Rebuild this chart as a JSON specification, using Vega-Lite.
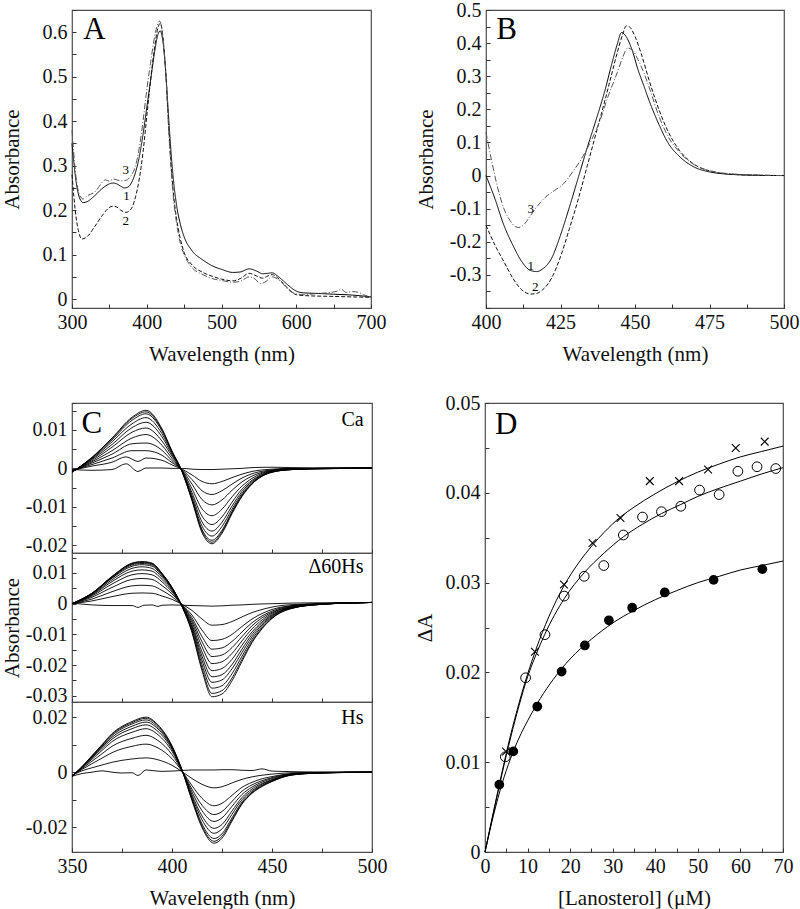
{
"$schema":"https://vega.github.io/schema/vega-lite/v6.json",
"padding":{"left":0,"top":-1,"right":0,"bottom":0},
"config":{
"font":"Liberation Serif",
"view":{"stroke":"#4d4d4d","strokeWidth":1.2},
"axis":{"domain":false,"grid":false,"ticks":true,"tickSize":-4,"tickColor":"#333","tickWidth":1,"labelFontSize":20,"titleFontSize":21,"labelColor":"#111","titleColor":"#111","titleFontWeight":"normal","labelFlush":false,"labelOverlap":false,"labelPadding":9,"labelFont":"Liberation Serif","titleFont":"Liberation Serif"},
"axisX":{"minExtent":31,"maxExtent":31,"titlePadding":4,"labelPadding":8},
"axisY":{"minExtent":47,"maxExtent":47,"titlePadding":3},
"line":{"color":"black","strokeWidth":1,"interpolate":"monotone","clip":true},
"text":{"font":"Liberation Serif","color":"black"},
"locale":{"number":{"decimal":".","thousands":",","grouping":[3],"currency":["$",""],"minus":"-"}}
},
"datasets":{
"A":[
{"c":"1","x":300,"y":0.35},{"c":"1","x":305,"y":0.27},{"c":"1","x":310,"y":0.228},{"c":"1","x":315,"y":0.217},{"c":"1","x":320,"y":0.219},{"c":"1","x":330,"y":0.232},{"c":"1","x":340,"y":0.248},{"c":"1","x":350,"y":0.259},{"c":"1","x":355,"y":0.261},{"c":"1","x":360,"y":0.259},{"c":"1","x":365,"y":0.254},{"c":"1","x":370,"y":0.25},{"c":"1","x":375,"y":0.252},{"c":"1","x":380,"y":0.263},{"c":"1","x":385,"y":0.285},{"c":"1","x":390,"y":0.32},{"c":"1","x":395,"y":0.37},{"c":"1","x":400,"y":0.43},{"c":"1","x":405,"y":0.49},{"c":"1","x":410,"y":0.55},{"c":"1","x":415,"y":0.595},{"c":"1","x":418,"y":0.603},{"c":"1","x":420,"y":0.595},{"c":"1","x":423,"y":0.56},{"c":"1","x":425,"y":0.52},{"c":"1","x":430,"y":0.39},{"c":"1","x":435,"y":0.28},{"c":"1","x":440,"y":0.21},{"c":"1","x":445,"y":0.168},{"c":"1","x":450,"y":0.14},{"c":"1","x":460,"y":0.11},{"c":"1","x":475,"y":0.088},{"c":"1","x":490,"y":0.073},{"c":"1","x":500,"y":0.067},{"c":"1","x":515,"y":0.06},{"c":"1","x":525,"y":0.061},{"c":"1","x":537,"y":0.068},{"c":"1","x":547,"y":0.063},{"c":"1","x":555,"y":0.057},{"c":"1","x":562,"y":0.058},{"c":"1","x":568,"y":0.059},{"c":"1","x":575,"y":0.052},{"c":"1","x":580,"y":0.045},{"c":"1","x":590,"y":0.03},{"c":"1","x":600,"y":0.018},{"c":"1","x":610,"y":0.014},{"c":"1","x":625,"y":0.013},{"c":"1","x":650,"y":0.011},{"c":"1","x":675,"y":0.009},{"c":"1","x":700,"y":0.005},
{"c":"2","x":300,"y":0.28},{"c":"2","x":305,"y":0.19},{"c":"2","x":310,"y":0.145},{"c":"2","x":313,"y":0.135},{"c":"2","x":320,"y":0.14},{"c":"2","x":330,"y":0.162},{"c":"2","x":340,"y":0.187},{"c":"2","x":350,"y":0.206},{"c":"2","x":355,"y":0.209},{"c":"2","x":360,"y":0.207},{"c":"2","x":365,"y":0.2},{"c":"2","x":372,"y":0.195},{"c":"2","x":378,"y":0.2},{"c":"2","x":385,"y":0.23},{"c":"2","x":390,"y":0.27},{"c":"2","x":395,"y":0.33},{"c":"2","x":400,"y":0.41},{"c":"2","x":405,"y":0.49},{"c":"2","x":410,"y":0.56},{"c":"2","x":415,"y":0.61},{"c":"2","x":418,"y":0.62},{"c":"2","x":420,"y":0.61},{"c":"2","x":423,"y":0.565},{"c":"2","x":425,"y":0.52},{"c":"2","x":430,"y":0.37},{"c":"2","x":435,"y":0.25},{"c":"2","x":440,"y":0.18},{"c":"2","x":445,"y":0.135},{"c":"2","x":450,"y":0.105},{"c":"2","x":460,"y":0.078},{"c":"2","x":475,"y":0.06},{"c":"2","x":490,"y":0.05},{"c":"2","x":500,"y":0.045},{"c":"2","x":515,"y":0.041},{"c":"2","x":525,"y":0.046},{"c":"2","x":537,"y":0.058},{"c":"2","x":547,"y":0.052},{"c":"2","x":555,"y":0.047},{"c":"2","x":562,"y":0.052},{"c":"2","x":568,"y":0.055},{"c":"2","x":575,"y":0.048},{"c":"2","x":580,"y":0.04},{"c":"2","x":590,"y":0.022},{"c":"2","x":600,"y":0.01},{"c":"2","x":610,"y":0.008},{"c":"2","x":650,"y":0.006},{"c":"2","x":700,"y":0.004},
{"c":"3","x":300,"y":0.38},{"c":"3","x":305,"y":0.28},{"c":"3","x":310,"y":0.235},{"c":"3","x":315,"y":0.225},{"c":"3","x":320,"y":0.232},{"c":"3","x":325,"y":0.236},{"c":"3","x":330,"y":0.24},{"c":"3","x":335,"y":0.25},{"c":"3","x":340,"y":0.262},{"c":"3","x":345,"y":0.268},{"c":"3","x":350,"y":0.265},{"c":"3","x":355,"y":0.27},{"c":"3","x":360,"y":0.268},{"c":"3","x":365,"y":0.266},{"c":"3","x":372,"y":0.267},{"c":"3","x":378,"y":0.275},{"c":"3","x":385,"y":0.3},{"c":"3","x":390,"y":0.34},{"c":"3","x":395,"y":0.4},{"c":"3","x":400,"y":0.47},{"c":"3","x":405,"y":0.53},{"c":"3","x":410,"y":0.585},{"c":"3","x":415,"y":0.62},{"c":"3","x":417,"y":0.625},{"c":"3","x":420,"y":0.61},{"c":"3","x":423,"y":0.56},{"c":"3","x":425,"y":0.52},{"c":"3","x":430,"y":0.36},{"c":"3","x":435,"y":0.24},{"c":"3","x":440,"y":0.17},{"c":"3","x":445,"y":0.125},{"c":"3","x":450,"y":0.1},{"c":"3","x":460,"y":0.072},{"c":"3","x":475,"y":0.055},{"c":"3","x":490,"y":0.045},{"c":"3","x":500,"y":0.042},{"c":"3","x":515,"y":0.038},{"c":"3","x":525,"y":0.04},{"c":"3","x":537,"y":0.05},{"c":"3","x":545,"y":0.045},{"c":"3","x":552,"y":0.035},{"c":"3","x":558,"y":0.038},{"c":"3","x":568,"y":0.05},{"c":"3","x":575,"y":0.045},{"c":"3","x":582,"y":0.035},{"c":"3","x":590,"y":0.02},{"c":"3","x":600,"y":0.012},{"c":"3","x":610,"y":0.01},{"c":"3","x":625,"y":0.012},{"c":"3","x":640,"y":0.014},{"c":"3","x":655,"y":0.018},{"c":"3","x":660,"y":0.022},{"c":"3","x":667,"y":0.015},{"c":"3","x":675,"y":0.017},{"c":"3","x":685,"y":0.014},{"c":"3","x":690,"y":0.01},{"c":"3","x":700,"y":0.004}
],
"B":[
{"c":"1","x":400,"y":0.0},{"c":"1","x":403,"y":-0.07},{"c":"1","x":406,"y":-0.15},{"c":"1","x":409,"y":-0.21},{"c":"1","x":412,"y":-0.26},{"c":"1","x":415,"y":-0.287},{"c":"1","x":417,"y":-0.29},{"c":"1","x":419,"y":-0.282},{"c":"1","x":422,"y":-0.25},{"c":"1","x":425,"y":-0.18},{"c":"1","x":428,"y":-0.095},{"c":"1","x":431,"y":-0.005},{"c":"1","x":434,"y":0.085},{"c":"1","x":437,"y":0.17},{"c":"1","x":440,"y":0.26},{"c":"1","x":442,"y":0.33},{"c":"1","x":444,"y":0.395},{"c":"1","x":445.5,"y":0.432},{"c":"1","x":447,"y":0.42},{"c":"1","x":449,"y":0.38},{"c":"1","x":451,"y":0.32},{"c":"1","x":453,"y":0.27},{"c":"1","x":455,"y":0.22},{"c":"1","x":458,"y":0.155},{"c":"1","x":461,"y":0.1},{"c":"1","x":465,"y":0.057},{"c":"1","x":470,"y":0.025},{"c":"1","x":475,"y":0.011},{"c":"1","x":480,"y":0.005},{"c":"1","x":490,"y":0.001},{"c":"1","x":500,"y":0},
{"c":"2","x":400,"y":-0.15},{"c":"2","x":403,"y":-0.21},{"c":"2","x":406,"y":-0.26},{"c":"2","x":409,"y":-0.31},{"c":"2","x":412,"y":-0.345},{"c":"2","x":415,"y":-0.358},{"c":"2","x":417,"y":-0.356},{"c":"2","x":419,"y":-0.345},{"c":"2","x":422,"y":-0.31},{"c":"2","x":425,"y":-0.245},{"c":"2","x":428,"y":-0.16},{"c":"2","x":431,"y":-0.07},{"c":"2","x":434,"y":0.03},{"c":"2","x":437,"y":0.13},{"c":"2","x":440,"y":0.23},{"c":"2","x":442,"y":0.3},{"c":"2","x":444,"y":0.37},{"c":"2","x":446,"y":0.43},{"c":"2","x":447,"y":0.452},{"c":"2","x":448,"y":0.45},{"c":"2","x":450,"y":0.42},{"c":"2","x":452,"y":0.37},{"c":"2","x":455,"y":0.28},{"c":"2","x":458,"y":0.2},{"c":"2","x":461,"y":0.135},{"c":"2","x":465,"y":0.075},{"c":"2","x":470,"y":0.033},{"c":"2","x":475,"y":0.014},{"c":"2","x":480,"y":0.006},{"c":"2","x":490,"y":0.001},{"c":"2","x":500,"y":0},
{"c":"3","x":400,"y":0.13},{"c":"3","x":402,"y":0.04},{"c":"3","x":404,"y":-0.04},{"c":"3","x":406,"y":-0.1},{"c":"3","x":408,"y":-0.135},{"c":"3","x":410,"y":-0.155},{"c":"3","x":411,"y":-0.157},{"c":"3","x":413,"y":-0.145},{"c":"3","x":415,"y":-0.12},{"c":"3","x":417,"y":-0.095},{"c":"3","x":420,"y":-0.065},{"c":"3","x":423,"y":-0.045},{"c":"3","x":426,"y":-0.025},{"c":"3","x":429,"y":0.01},{"c":"3","x":432,"y":0.05},{"c":"3","x":435,"y":0.1},{"c":"3","x":438,"y":0.16},{"c":"3","x":441,"y":0.24},{"c":"3","x":444,"y":0.31},{"c":"3","x":446,"y":0.36},{"c":"3","x":447.5,"y":0.385},{"c":"3","x":449,"y":0.38},{"c":"3","x":451,"y":0.35},{"c":"3","x":453,"y":0.31},{"c":"3","x":455,"y":0.26},{"c":"3","x":458,"y":0.18},{"c":"3","x":461,"y":0.12},{"c":"3","x":465,"y":0.07},{"c":"3","x":470,"y":0.032},{"c":"3","x":475,"y":0.015},{"c":"3","x":480,"y":0.007},{"c":"3","x":490,"y":0.002},{"c":"3","x":500,"y":0}
],
"Ca":[
{"c":1,"x":350,"y":-0.0003},{"c":1,"x":360,"y":-0.0005},{"c":1,"x":370,"y":-0.0003},{"c":1,"x":377,"y":0.0012},{"c":1,"x":383,"y":-0.0008},{"c":1,"x":387,"y":0.0001},{"c":1,"x":395,"y":0.0001},{"c":1,"x":400,"y":0},{"c":1,"x":405,"y":0},{"c":1,"x":410,"y":-0.0002},{"c":1,"x":415,"y":-0.0003},{"c":1,"x":420,"y":-0.0003},{"c":1,"x":425,"y":-0.0002},{"c":1,"x":430,"y":-0.0001},{"c":1,"x":435,"y":0},{"c":1,"x":440,"y":0.0002},{"c":1,"x":450,"y":0.0003},{"c":1,"x":460,"y":0.0002},{"c":1,"x":475,"y":0.0001},{"c":1,"x":500,"y":0},
{"c":2,"x":350,"y":-0.0005},{"c":2,"x":360,"y":0.0006},{"c":2,"x":370,"y":0.0016},{"c":2,"x":377,"y":0.003},{"c":2,"x":383,"y":0.0018},{"c":2,"x":387,"y":0.0027},{"c":2,"x":395,"y":0.0021},{"c":2,"x":400,"y":0.0009},{"c":2,"x":405,"y":-0.0002},{"c":2,"x":410,"y":-0.0017},{"c":2,"x":415,"y":-0.0034},{"c":2,"x":420,"y":-0.004},{"c":2,"x":425,"y":-0.0034},{"c":2,"x":430,"y":-0.0024},{"c":2,"x":435,"y":-0.0015},{"c":2,"x":440,"y":-0.0008},{"c":2,"x":450,"y":-0.0002},{"c":2,"x":460,"y":0},{"c":2,"x":475,"y":0},{"c":2,"x":500,"y":0},
{"c":3,"x":350,"y":-0.0006},{"c":3,"x":360,"y":0.001},{"c":3,"x":370,"y":0.0027},{"c":3,"x":380,"y":0.0046},{"c":3,"x":387,"y":0.0046},{"c":3,"x":395,"y":0.0034},{"c":3,"x":400,"y":0.0015},{"c":3,"x":405,"y":-0.0003},{"c":3,"x":410,"y":-0.0029},{"c":3,"x":415,"y":-0.0058},{"c":3,"x":420,"y":-0.0068},{"c":3,"x":425,"y":-0.0058},{"c":3,"x":430,"y":-0.0041},{"c":3,"x":435,"y":-0.0025},{"c":3,"x":440,"y":-0.0014},{"c":3,"x":450,"y":-0.0004},{"c":3,"x":460,"y":-0.0001},{"c":3,"x":475,"y":0},{"c":3,"x":500,"y":0},
{"c":4,"x":350,"y":-0.0007},{"c":4,"x":360,"y":0.0014},{"c":4,"x":370,"y":0.0037},{"c":4,"x":380,"y":0.0064},{"c":4,"x":387,"y":0.0066},{"c":4,"x":395,"y":0.0047},{"c":4,"x":400,"y":0.002},{"c":4,"x":405,"y":-0.0004},{"c":4,"x":410,"y":-0.0041},{"c":4,"x":415,"y":-0.0081},{"c":4,"x":420,"y":-0.0095},{"c":4,"x":425,"y":-0.0082},{"c":4,"x":430,"y":-0.0057},{"c":4,"x":435,"y":-0.0035},{"c":4,"x":440,"y":-0.002},{"c":4,"x":450,"y":-0.0005},{"c":4,"x":460,"y":-0.0001},{"c":4,"x":475,"y":0},{"c":4,"x":500,"y":0},
{"c":5,"x":350,"y":-0.0008},{"c":5,"x":360,"y":0.0017},{"c":5,"x":370,"y":0.0046},{"c":5,"x":380,"y":0.0079},{"c":5,"x":387,"y":0.0088},{"c":5,"x":395,"y":0.006},{"c":5,"x":400,"y":0.0026},{"c":5,"x":405,"y":-0.0005},{"c":5,"x":410,"y":-0.0053},{"c":5,"x":415,"y":-0.0105},{"c":5,"x":420,"y":-0.0123},{"c":5,"x":425,"y":-0.0106},{"c":5,"x":430,"y":-0.0074},{"c":5,"x":435,"y":-0.0046},{"c":5,"x":440,"y":-0.0026},{"c":5,"x":450,"y":-0.0006},{"c":5,"x":460,"y":-0.0002},{"c":5,"x":475,"y":0},{"c":5,"x":500,"y":0.0001},
{"c":6,"x":350,"y":-0.0008},{"c":6,"x":360,"y":0.002},{"c":6,"x":370,"y":0.0055},{"c":6,"x":380,"y":0.0094},{"c":6,"x":387,"y":0.0105},{"c":6,"x":395,"y":0.0071},{"c":6,"x":400,"y":0.0032},{"c":6,"x":405,"y":-0.0006},{"c":6,"x":410,"y":-0.0063},{"c":6,"x":415,"y":-0.0124},{"c":6,"x":420,"y":-0.0146},{"c":6,"x":425,"y":-0.0126},{"c":6,"x":430,"y":-0.0088},{"c":6,"x":435,"y":-0.0054},{"c":6,"x":440,"y":-0.0031},{"c":6,"x":450,"y":-0.0007},{"c":6,"x":460,"y":-0.0002},{"c":6,"x":475,"y":0},{"c":6,"x":500,"y":0.0001},
{"c":7,"x":350,"y":-0.0009},{"c":7,"x":360,"y":0.0023},{"c":7,"x":370,"y":0.0062},{"c":7,"x":380,"y":0.0106},{"c":7,"x":387,"y":0.012},{"c":7,"x":395,"y":0.0082},{"c":7,"x":400,"y":0.0036},{"c":7,"x":405,"y":-0.0007},{"c":7,"x":410,"y":-0.007},{"c":7,"x":415,"y":-0.0139},{"c":7,"x":420,"y":-0.0163},{"c":7,"x":425,"y":-0.014},{"c":7,"x":430,"y":-0.0098},{"c":7,"x":435,"y":-0.006},{"c":7,"x":440,"y":-0.0034},{"c":7,"x":450,"y":-0.0008},{"c":7,"x":460,"y":-0.0002},{"c":7,"x":475,"y":0},{"c":7,"x":500,"y":0.0001},
{"c":8,"x":350,"y":-0.0009},{"c":8,"x":360,"y":0.0025},{"c":8,"x":370,"y":0.0069},{"c":8,"x":380,"y":0.0116},{"c":8,"x":387,"y":0.0132},{"c":8,"x":395,"y":0.009},{"c":8,"x":400,"y":0.004},{"c":8,"x":405,"y":-0.0007},{"c":8,"x":410,"y":-0.0076},{"c":8,"x":415,"y":-0.015},{"c":8,"x":420,"y":-0.0176},{"c":8,"x":425,"y":-0.0151},{"c":8,"x":430,"y":-0.0106},{"c":8,"x":435,"y":-0.0065},{"c":8,"x":440,"y":-0.0037},{"c":8,"x":450,"y":-0.0009},{"c":8,"x":460,"y":-0.0003},{"c":8,"x":475,"y":0},{"c":8,"x":500,"y":0.0001},
{"c":9,"x":350,"y":-0.001},{"c":9,"x":360,"y":0.0027},{"c":9,"x":370,"y":0.0074},{"c":9,"x":380,"y":0.0125},{"c":9,"x":387,"y":0.0142},{"c":9,"x":395,"y":0.0097},{"c":9,"x":400,"y":0.0043},{"c":9,"x":405,"y":-0.0007},{"c":9,"x":410,"y":-0.008},{"c":9,"x":415,"y":-0.0159},{"c":9,"x":420,"y":-0.0187},{"c":9,"x":425,"y":-0.0161},{"c":9,"x":430,"y":-0.0112},{"c":9,"x":435,"y":-0.0069},{"c":9,"x":440,"y":-0.0039},{"c":9,"x":450,"y":-0.0009},{"c":9,"x":460,"y":-0.0003},{"c":9,"x":475,"y":-0.0001},{"c":9,"x":500,"y":0.0001},
{"c":10,"x":350,"y":-0.001},{"c":10,"x":360,"y":0.0028},{"c":10,"x":370,"y":0.0077},{"c":10,"x":380,"y":0.013},{"c":10,"x":387,"y":0.0147},{"c":10,"x":395,"y":0.01},{"c":10,"x":400,"y":0.0044},{"c":10,"x":405,"y":-0.0008},{"c":10,"x":410,"y":-0.0082},{"c":10,"x":415,"y":-0.0163},{"c":10,"x":420,"y":-0.0192},{"c":10,"x":425,"y":-0.0165},{"c":10,"x":430,"y":-0.0115},{"c":10,"x":435,"y":-0.0071},{"c":10,"x":440,"y":-0.004},{"c":10,"x":450,"y":-0.001},{"c":10,"x":460,"y":-0.0003},{"c":10,"x":475,"y":-0.0001},{"c":10,"x":500,"y":0.0001},
{"c":11,"x":350,"y":-0.001},{"c":11,"x":360,"y":0.0029},{"c":11,"x":370,"y":0.0079},{"c":11,"x":380,"y":0.0133},{"c":11,"x":387,"y":0.0151},{"c":11,"x":395,"y":0.0103},{"c":11,"x":400,"y":0.0045},{"c":11,"x":405,"y":-0.0008},{"c":11,"x":410,"y":-0.0084},{"c":11,"x":415,"y":-0.0167},{"c":11,"x":420,"y":-0.0196},{"c":11,"x":425,"y":-0.0169},{"c":11,"x":430,"y":-0.0118},{"c":11,"x":435,"y":-0.0073},{"c":11,"x":440,"y":-0.0041},{"c":11,"x":450,"y":-0.001},{"c":11,"x":460,"y":-0.0003},{"c":11,"x":475,"y":-0.0001},{"c":11,"x":500,"y":0.0002}
],
"Dh":[
{"c":1,"x":350,"y":0.0002},{"c":1,"x":360,"y":-0.0004},{"c":1,"x":370,"y":-0.0006},{"c":1,"x":380,"y":-0.0006},{"c":1,"x":383,"y":-0.0012},{"c":1,"x":386,"y":-0.0005},{"c":1,"x":390,"y":-0.0004},{"c":1,"x":393,"y":-0.0009},{"c":1,"x":395,"y":-0.0005},{"c":1,"x":400,"y":-0.0004},{"c":1,"x":405,"y":-0.0005},{"c":1,"x":410,"y":-0.0006},{"c":1,"x":415,"y":-0.0007},{"c":1,"x":420,"y":-0.0008},{"c":1,"x":425,"y":-0.0007},{"c":1,"x":430,"y":-0.0005},{"c":1,"x":435,"y":-0.0004},{"c":1,"x":440,"y":-0.0002},{"c":1,"x":450,"y":0},{"c":1,"x":460,"y":0.0002},{"c":1,"x":475,"y":0.0003},{"c":1,"x":500,"y":0.0004},
{"c":2,"x":350,"y":0},{"c":2,"x":360,"y":0.0009},{"c":2,"x":370,"y":0.0023},{"c":2,"x":380,"y":0.0034},{"c":2,"x":385,"y":0.0035},{"c":2,"x":390,"y":0.0034},{"c":2,"x":395,"y":0.0025},{"c":2,"x":400,"y":0.0014},{"c":2,"x":405,"y":-0.0002},{"c":2,"x":410,"y":-0.0022},{"c":2,"x":415,"y":-0.005},{"c":2,"x":420,"y":-0.007},{"c":2,"x":425,"y":-0.0068},{"c":2,"x":430,"y":-0.0058},{"c":2,"x":435,"y":-0.0043},{"c":2,"x":440,"y":-0.0029},{"c":2,"x":445,"y":-0.0019},{"c":2,"x":450,"y":-0.0011},{"c":2,"x":460,"y":-0.0003},{"c":2,"x":475,"y":0},{"c":2,"x":500,"y":0.0004},
{"c":3,"x":350,"y":0},{"c":3,"x":360,"y":0.0015},{"c":3,"x":370,"y":0.0039},{"c":3,"x":380,"y":0.0058},{"c":3,"x":385,"y":0.006},{"c":3,"x":390,"y":0.0058},{"c":3,"x":395,"y":0.0043},{"c":3,"x":400,"y":0.0023},{"c":3,"x":405,"y":-0.0004},{"c":3,"x":410,"y":-0.0037},{"c":3,"x":415,"y":-0.0086},{"c":3,"x":420,"y":-0.012},{"c":3,"x":425,"y":-0.0116},{"c":3,"x":430,"y":-0.01},{"c":3,"x":435,"y":-0.0074},{"c":3,"x":440,"y":-0.005},{"c":3,"x":445,"y":-0.0032},{"c":3,"x":450,"y":-0.0019},{"c":3,"x":460,"y":-0.0006},{"c":3,"x":475,"y":0},{"c":3,"x":500,"y":0.0004},
{"c":4,"x":350,"y":0},{"c":4,"x":360,"y":0.0021},{"c":4,"x":370,"y":0.0053},{"c":4,"x":380,"y":0.0079},{"c":4,"x":385,"y":0.0082},{"c":4,"x":390,"y":0.0079},{"c":4,"x":395,"y":0.0059},{"c":4,"x":400,"y":0.0032},{"c":4,"x":405,"y":-0.0004},{"c":4,"x":410,"y":-0.0046},{"c":4,"x":415,"y":-0.0107},{"c":4,"x":420,"y":-0.0148},{"c":4,"x":425,"y":-0.0144},{"c":4,"x":430,"y":-0.0123},{"c":4,"x":435,"y":-0.0092},{"c":4,"x":440,"y":-0.0062},{"c":4,"x":445,"y":-0.004},{"c":4,"x":450,"y":-0.0024},{"c":4,"x":460,"y":-0.0007},{"c":4,"x":475,"y":0},{"c":4,"x":500,"y":0.0004},
{"c":5,"x":350,"y":0},{"c":5,"x":360,"y":0.0025},{"c":5,"x":370,"y":0.0064},{"c":5,"x":380,"y":0.0094},{"c":5,"x":385,"y":0.0098},{"c":5,"x":390,"y":0.0094},{"c":5,"x":395,"y":0.0071},{"c":5,"x":400,"y":0.0038},{"c":5,"x":405,"y":-0.0005},{"c":5,"x":410,"y":-0.0053},{"c":5,"x":415,"y":-0.0124},{"c":5,"x":420,"y":-0.0172},{"c":5,"x":425,"y":-0.0167},{"c":5,"x":430,"y":-0.0143},{"c":5,"x":435,"y":-0.0107},{"c":5,"x":440,"y":-0.0072},{"c":5,"x":445,"y":-0.0046},{"c":5,"x":450,"y":-0.0028},{"c":5,"x":460,"y":-0.0009},{"c":5,"x":475,"y":-0.0001},{"c":5,"x":500,"y":0.0004},
{"c":6,"x":350,"y":0},{"c":6,"x":360,"y":0.0028},{"c":6,"x":370,"y":0.0072},{"c":6,"x":380,"y":0.0106},{"c":6,"x":385,"y":0.011},{"c":6,"x":390,"y":0.0106},{"c":6,"x":395,"y":0.0079},{"c":6,"x":400,"y":0.0043},{"c":6,"x":405,"y":-0.0006},{"c":6,"x":410,"y":-0.006},{"c":6,"x":415,"y":-0.014},{"c":6,"x":420,"y":-0.0195},{"c":6,"x":425,"y":-0.0189},{"c":6,"x":430,"y":-0.0162},{"c":6,"x":435,"y":-0.0121},{"c":6,"x":440,"y":-0.0082},{"c":6,"x":445,"y":-0.0053},{"c":6,"x":450,"y":-0.0031},{"c":6,"x":460,"y":-0.001},{"c":6,"x":475,"y":-0.0001},{"c":6,"x":500,"y":0.0004},
{"c":7,"x":350,"y":0},{"c":7,"x":360,"y":0.003},{"c":7,"x":370,"y":0.0078},{"c":7,"x":380,"y":0.0115},{"c":7,"x":385,"y":0.012},{"c":7,"x":390,"y":0.0115},{"c":7,"x":395,"y":0.0086},{"c":7,"x":400,"y":0.0047},{"c":7,"x":405,"y":-0.0007},{"c":7,"x":410,"y":-0.0068},{"c":7,"x":415,"y":-0.0157},{"c":7,"x":420,"y":-0.0218},{"c":7,"x":425,"y":-0.0211},{"c":7,"x":430,"y":-0.0181},{"c":7,"x":435,"y":-0.0135},{"c":7,"x":440,"y":-0.0092},{"c":7,"x":445,"y":-0.0059},{"c":7,"x":450,"y":-0.0035},{"c":7,"x":460,"y":-0.0011},{"c":7,"x":475,"y":-0.0001},{"c":7,"x":500,"y":0.0004},
{"c":8,"x":350,"y":0},{"c":8,"x":360,"y":0.0032},{"c":8,"x":370,"y":0.0083},{"c":8,"x":380,"y":0.0122},{"c":8,"x":385,"y":0.0127},{"c":8,"x":390,"y":0.0122},{"c":8,"x":395,"y":0.0091},{"c":8,"x":400,"y":0.005},{"c":8,"x":405,"y":-0.0007},{"c":8,"x":410,"y":-0.0074},{"c":8,"x":415,"y":-0.0171},{"c":8,"x":420,"y":-0.0238},{"c":8,"x":425,"y":-0.0231},{"c":8,"x":430,"y":-0.0198},{"c":8,"x":435,"y":-0.0148},{"c":8,"x":440,"y":-0.01},{"c":8,"x":445,"y":-0.0064},{"c":8,"x":450,"y":-0.0038},{"c":8,"x":460,"y":-0.0012},{"c":8,"x":475,"y":-0.0001},{"c":8,"x":500,"y":0.0004},
{"c":9,"x":350,"y":0},{"c":9,"x":360,"y":0.0033},{"c":9,"x":370,"y":0.0085},{"c":9,"x":380,"y":0.0126},{"c":9,"x":385,"y":0.0131},{"c":9,"x":390,"y":0.0126},{"c":9,"x":395,"y":0.0094},{"c":9,"x":400,"y":0.0051},{"c":9,"x":405,"y":-0.0008},{"c":9,"x":410,"y":-0.0079},{"c":9,"x":415,"y":-0.0184},{"c":9,"x":420,"y":-0.0256},{"c":9,"x":425,"y":-0.0248},{"c":9,"x":430,"y":-0.0212},{"c":9,"x":435,"y":-0.0159},{"c":9,"x":440,"y":-0.0108},{"c":9,"x":445,"y":-0.0069},{"c":9,"x":450,"y":-0.0041},{"c":9,"x":460,"y":-0.0013},{"c":9,"x":475,"y":-0.0002},{"c":9,"x":500,"y":0.0004},
{"c":10,"x":350,"y":0},{"c":10,"x":360,"y":0.0034},{"c":10,"x":370,"y":0.0087},{"c":10,"x":380,"y":0.0129},{"c":10,"x":385,"y":0.0134},{"c":10,"x":390,"y":0.0129},{"c":10,"x":395,"y":0.0096},{"c":10,"x":400,"y":0.0052},{"c":10,"x":405,"y":-0.0008},{"c":10,"x":410,"y":-0.0085},{"c":10,"x":415,"y":-0.0198},{"c":10,"x":420,"y":-0.0275},{"c":10,"x":425,"y":-0.0267},{"c":10,"x":430,"y":-0.0228},{"c":10,"x":435,"y":-0.0171},{"c":10,"x":440,"y":-0.0116},{"c":10,"x":445,"y":-0.0074},{"c":10,"x":450,"y":-0.0044},{"c":10,"x":460,"y":-0.0014},{"c":10,"x":475,"y":-0.0002},{"c":10,"x":500,"y":0.0004},
{"c":11,"x":350,"y":0},{"c":11,"x":360,"y":0.0034},{"c":11,"x":370,"y":0.0088},{"c":11,"x":380,"y":0.0131},{"c":11,"x":385,"y":0.0136},{"c":11,"x":390,"y":0.0131},{"c":11,"x":395,"y":0.0098},{"c":11,"x":400,"y":0.0053},{"c":11,"x":405,"y":-0.0009},{"c":11,"x":410,"y":-0.009},{"c":11,"x":415,"y":-0.021},{"c":11,"x":420,"y":-0.0292},{"c":11,"x":425,"y":-0.0283},{"c":11,"x":430,"y":-0.0242},{"c":11,"x":435,"y":-0.0181},{"c":11,"x":440,"y":-0.0123},{"c":11,"x":445,"y":-0.0079},{"c":11,"x":450,"y":-0.0047},{"c":11,"x":460,"y":-0.0015},{"c":11,"x":475,"y":-0.0002},{"c":11,"x":500,"y":0.0004},
{"c":12,"x":350,"y":0},{"c":12,"x":360,"y":0.0034},{"c":12,"x":370,"y":0.0089},{"c":12,"x":380,"y":0.0132},{"c":12,"x":385,"y":0.0137},{"c":12,"x":390,"y":0.0132},{"c":12,"x":395,"y":0.0099},{"c":12,"x":400,"y":0.0053},{"c":12,"x":405,"y":-0.0009},{"c":12,"x":410,"y":-0.0094},{"c":12,"x":415,"y":-0.0218},{"c":12,"x":420,"y":-0.0303},{"c":12,"x":425,"y":-0.0294},{"c":12,"x":430,"y":-0.0251},{"c":12,"x":435,"y":-0.0188},{"c":12,"x":440,"y":-0.0127},{"c":12,"x":445,"y":-0.0082},{"c":12,"x":450,"y":-0.0048},{"c":12,"x":460,"y":-0.0015},{"c":12,"x":475,"y":-0.0002},{"c":12,"x":500,"y":0.0004}
],
"Hs":[
{"c":1,"x":350,"y":-0.0015},{"c":1,"x":355,"y":-0.0005},{"c":1,"x":360,"y":0},{"c":1,"x":365,"y":0.0005},{"c":1,"x":370,"y":0},{"c":1,"x":375,"y":-0.0003},{"c":1,"x":380,"y":-0.0002},{"c":1,"x":383,"y":-0.0012},{"c":1,"x":387,"y":0.0008},{"c":1,"x":390,"y":0.0006},{"c":1,"x":395,"y":0.0003},{"c":1,"x":400,"y":0.0004},{"c":1,"x":405,"y":0.0006},{"c":1,"x":410,"y":0.0008},{"c":1,"x":415,"y":0.0008},{"c":1,"x":421,"y":0.0008},{"c":1,"x":425,"y":0.0009},{"c":1,"x":430,"y":0.0009},{"c":1,"x":435,"y":0.0007},{"c":1,"x":440,"y":0.0006},{"c":1,"x":445,"y":0.0012},{"c":1,"x":450,"y":0.0004},{"c":1,"x":460,"y":0.0002},{"c":1,"x":475,"y":0},{"c":1,"x":500,"y":0},
{"c":2,"x":350,"y":-0.0012},{"c":2,"x":355,"y":0.0005},{"c":2,"x":360,"y":0.0016},{"c":2,"x":365,"y":0.0026},{"c":2,"x":370,"y":0.0036},{"c":2,"x":380,"y":0.0048},{"c":2,"x":387,"y":0.0052},{"c":2,"x":393,"y":0.0045},{"c":2,"x":400,"y":0.0025},{"c":2,"x":405,"y":0.0002},{"c":2,"x":410,"y":-0.0023},{"c":2,"x":415,"y":-0.0044},{"c":2,"x":421,"y":-0.0057},{"c":2,"x":425,"y":-0.0053},{"c":2,"x":430,"y":-0.0039},{"c":2,"x":435,"y":-0.0026},{"c":2,"x":440,"y":-0.0017},{"c":2,"x":445,"y":-0.0011},{"c":2,"x":450,"y":-0.0007},{"c":2,"x":460,"y":-0.0002},{"c":2,"x":475,"y":0},{"c":2,"x":500,"y":0},
{"c":3,"x":350,"y":-0.0012},{"c":3,"x":355,"y":0.001},{"c":3,"x":360,"y":0.0031},{"c":3,"x":365,"y":0.0051},{"c":3,"x":370,"y":0.0071},{"c":3,"x":380,"y":0.0094},{"c":3,"x":387,"y":0.0102},{"c":3,"x":393,"y":0.0088},{"c":3,"x":400,"y":0.0049},{"c":3,"x":405,"y":0.0004},{"c":3,"x":410,"y":-0.0049},{"c":3,"x":415,"y":-0.0095},{"c":3,"x":421,"y":-0.0122},{"c":3,"x":425,"y":-0.0113},{"c":3,"x":430,"y":-0.0084},{"c":3,"x":435,"y":-0.0055},{"c":3,"x":440,"y":-0.0037},{"c":3,"x":445,"y":-0.0024},{"c":3,"x":450,"y":-0.0016},{"c":3,"x":460,"y":-0.0005},{"c":3,"x":475,"y":-0.0001},{"c":3,"x":500,"y":0},
{"c":4,"x":350,"y":-0.0013},{"c":4,"x":355,"y":0.0013},{"c":4,"x":360,"y":0.004},{"c":4,"x":365,"y":0.0067},{"c":4,"x":370,"y":0.0094},{"c":4,"x":380,"y":0.0123},{"c":4,"x":387,"y":0.0134},{"c":4,"x":393,"y":0.0115},{"c":4,"x":400,"y":0.0064},{"c":4,"x":405,"y":0.0005},{"c":4,"x":410,"y":-0.0062},{"c":4,"x":415,"y":-0.012},{"c":4,"x":421,"y":-0.0154},{"c":4,"x":425,"y":-0.0143},{"c":4,"x":430,"y":-0.0106},{"c":4,"x":435,"y":-0.0069},{"c":4,"x":440,"y":-0.0046},{"c":4,"x":445,"y":-0.0031},{"c":4,"x":450,"y":-0.002},{"c":4,"x":460,"y":-0.0006},{"c":4,"x":475,"y":-0.0002},{"c":4,"x":500,"y":0},
{"c":5,"x":350,"y":-0.0013},{"c":5,"x":355,"y":0.0016},{"c":5,"x":360,"y":0.0047},{"c":5,"x":365,"y":0.0079},{"c":5,"x":370,"y":0.0111},{"c":5,"x":380,"y":0.0145},{"c":5,"x":387,"y":0.0158},{"c":5,"x":393,"y":0.0136},{"c":5,"x":400,"y":0.0076},{"c":5,"x":405,"y":0.0006},{"c":5,"x":410,"y":-0.0072},{"c":5,"x":415,"y":-0.014},{"c":5,"x":421,"y":-0.0179},{"c":5,"x":425,"y":-0.0166},{"c":5,"x":430,"y":-0.0124},{"c":5,"x":435,"y":-0.0081},{"c":5,"x":440,"y":-0.0054},{"c":5,"x":445,"y":-0.0036},{"c":5,"x":450,"y":-0.0023},{"c":5,"x":460,"y":-0.0007},{"c":5,"x":475,"y":-0.0002},{"c":5,"x":500,"y":0},
{"c":6,"x":350,"y":-0.0014},{"c":6,"x":355,"y":0.0017},{"c":6,"x":360,"y":0.0052},{"c":6,"x":365,"y":0.0086},{"c":6,"x":370,"y":0.012},{"c":6,"x":380,"y":0.0158},{"c":6,"x":387,"y":0.0172},{"c":6,"x":393,"y":0.0148},{"c":6,"x":400,"y":0.0083},{"c":6,"x":405,"y":0.0007},{"c":6,"x":410,"y":-0.0082},{"c":6,"x":415,"y":-0.0159},{"c":6,"x":421,"y":-0.0204},{"c":6,"x":425,"y":-0.019},{"c":6,"x":430,"y":-0.0141},{"c":6,"x":435,"y":-0.0092},{"c":6,"x":440,"y":-0.0061},{"c":6,"x":445,"y":-0.0041},{"c":6,"x":450,"y":-0.0027},{"c":6,"x":460,"y":-0.0008},{"c":6,"x":475,"y":-0.0002},{"c":6,"x":500,"y":0},
{"c":7,"x":350,"y":-0.0014},{"c":7,"x":355,"y":0.0018},{"c":7,"x":360,"y":0.0055},{"c":7,"x":365,"y":0.0091},{"c":7,"x":370,"y":0.0127},{"c":7,"x":380,"y":0.0167},{"c":7,"x":387,"y":0.0182},{"c":7,"x":393,"y":0.0157},{"c":7,"x":400,"y":0.0087},{"c":7,"x":405,"y":0.0007},{"c":7,"x":410,"y":-0.0089},{"c":7,"x":415,"y":-0.0173},{"c":7,"x":421,"y":-0.0222},{"c":7,"x":425,"y":-0.0206},{"c":7,"x":430,"y":-0.0153},{"c":7,"x":435,"y":-0.01},{"c":7,"x":440,"y":-0.0067},{"c":7,"x":445,"y":-0.0044},{"c":7,"x":450,"y":-0.0029},{"c":7,"x":460,"y":-0.0009},{"c":7,"x":475,"y":-0.0002},{"c":7,"x":500,"y":0},
{"c":8,"x":350,"y":-0.0015},{"c":8,"x":355,"y":0.0019},{"c":8,"x":360,"y":0.0057},{"c":8,"x":365,"y":0.0095},{"c":8,"x":370,"y":0.0133},{"c":8,"x":380,"y":0.0175},{"c":8,"x":387,"y":0.019},{"c":8,"x":393,"y":0.0163},{"c":8,"x":400,"y":0.0091},{"c":8,"x":405,"y":0.0008},{"c":8,"x":410,"y":-0.0096},{"c":8,"x":415,"y":-0.0188},{"c":8,"x":421,"y":-0.0241},{"c":8,"x":425,"y":-0.0224},{"c":8,"x":430,"y":-0.0166},{"c":8,"x":435,"y":-0.0108},{"c":8,"x":440,"y":-0.0072},{"c":8,"x":445,"y":-0.0048},{"c":8,"x":450,"y":-0.0031},{"c":8,"x":460,"y":-0.001},{"c":8,"x":475,"y":-0.0002},{"c":8,"x":500,"y":0},
{"c":9,"x":350,"y":-0.0015},{"c":9,"x":355,"y":0.002},{"c":9,"x":360,"y":0.0059},{"c":9,"x":365,"y":0.0098},{"c":9,"x":370,"y":0.0137},{"c":9,"x":380,"y":0.018},{"c":9,"x":387,"y":0.0196},{"c":9,"x":393,"y":0.0169},{"c":9,"x":400,"y":0.0094},{"c":9,"x":405,"y":0.0008},{"c":9,"x":410,"y":-0.01},{"c":9,"x":415,"y":-0.0196},{"c":9,"x":421,"y":-0.0251},{"c":9,"x":425,"y":-0.0233},{"c":9,"x":430,"y":-0.0173},{"c":9,"x":435,"y":-0.0113},{"c":9,"x":440,"y":-0.0075},{"c":9,"x":445,"y":-0.005},{"c":9,"x":450,"y":-0.0033},{"c":9,"x":460,"y":-0.001},{"c":9,"x":475,"y":-0.0003},{"c":9,"x":500,"y":0},
{"c":10,"x":350,"y":-0.0015},{"c":10,"x":355,"y":0.002},{"c":10,"x":360,"y":0.006},{"c":10,"x":365,"y":0.01},{"c":10,"x":370,"y":0.014},{"c":10,"x":380,"y":0.0184},{"c":10,"x":387,"y":0.02},{"c":10,"x":393,"y":0.0172},{"c":10,"x":400,"y":0.0096},{"c":10,"x":405,"y":0.0008},{"c":10,"x":410,"y":-0.0103},{"c":10,"x":415,"y":-0.0201},{"c":10,"x":421,"y":-0.0258},{"c":10,"x":425,"y":-0.024},{"c":10,"x":430,"y":-0.0178},{"c":10,"x":435,"y":-0.0116},{"c":10,"x":440,"y":-0.0077},{"c":10,"x":445,"y":-0.0052},{"c":10,"x":450,"y":-0.0034},{"c":10,"x":460,"y":-0.001},{"c":10,"x":475,"y":-0.0003},{"c":10,"x":500,"y":0}
],
"Dp":[
{"s":"x","x":4.93,"y":0.0112},{"s":"x","x":11.73,"y":0.0223},{"s":"x","x":18.54,"y":0.0298},{"s":"x","x":25.26,"y":0.0344},{"s":"x","x":31.83,"y":0.0372},{"s":"x","x":38.71,"y":0.0413},{"s":"x","x":45.6,"y":0.0413},{"s":"x","x":52.4,"y":0.0426},{"s":"x","x":58.9,"y":0.045},{"s":"x","x":65.7,"y":0.0457},
{"s":"o","x":4.77,"y":0.0106},{"s":"o","x":9.54,"y":0.0194},{"s":"o","x":14.08,"y":0.0242},{"s":"o","x":18.6,"y":0.0285},{"s":"o","x":23.3,"y":0.0307},{"s":"o","x":27.9,"y":0.0319},{"s":"o","x":32.5,"y":0.0353},{"s":"o","x":37.0,"y":0.0373},{"s":"o","x":41.45,"y":0.0379},{"s":"o","x":46.0,"y":0.0385},{"s":"o","x":50.4,"y":0.0403},{"s":"o","x":55.0,"y":0.0398},{"s":"o","x":59.4,"y":0.0424},{"s":"o","x":63.9,"y":0.0429},{"s":"o","x":68.3,"y":0.0427},
{"s":"f","x":3.36,"y":0.0075},{"s":"f","x":6.65,"y":0.0112},{"s":"f","x":12.28,"y":0.0162},{"s":"f","x":18.0,"y":0.0201},{"s":"f","x":23.46,"y":0.023},{"s":"f","x":29.1,"y":0.0258},{"s":"f","x":34.57,"y":0.0272},{"s":"f","x":42.23,"y":0.0289},{"s":"f","x":53.7,"y":0.0303},{"s":"f","x":65.15,"y":0.0315}
],
"Df":[
{"s":"x","x":0,"y":0},{"s":"x","x":2,"y":0.0045},{"s":"x","x":4,"y":0.0089},{"s":"x","x":6,"y":0.013},{"s":"x","x":8,"y":0.0166},{"s":"x","x":10,"y":0.0198},{"s":"x","x":12,"y":0.0226},{"s":"x","x":15,"y":0.0262},{"s":"x","x":18.5,"y":0.0296},{"s":"x","x":22,"y":0.0322},{"s":"x","x":25.3,"y":0.0342},{"s":"x","x":28,"y":0.0356},{"s":"x","x":31.8,"y":0.0373},{"s":"x","x":35,"y":0.0384},{"s":"x","x":40,"y":0.0399},{"s":"x","x":45,"y":0.0412},{"s":"x","x":50,"y":0.0423},{"s":"x","x":55,"y":0.0432},{"s":"x","x":60,"y":0.044},{"s":"x","x":65,"y":0.0446},{"s":"x","x":70,"y":0.0452},
{"s":"o","x":0,"y":0},{"s":"o","x":2,"y":0.0044},{"s":"o","x":4,"y":0.0087},{"s":"o","x":6,"y":0.0127},{"s":"o","x":8,"y":0.0163},{"s":"o","x":10,"y":0.0195},{"s":"o","x":12,"y":0.022},{"s":"o","x":14,"y":0.0242},{"s":"o","x":18.6,"y":0.0282},{"s":"o","x":23.3,"y":0.0311},{"s":"o","x":28,"y":0.0333},{"s":"o","x":32.5,"y":0.0351},{"s":"o","x":37,"y":0.0365},{"s":"o","x":41.5,"y":0.0377},{"s":"o","x":46,"y":0.0387},{"s":"o","x":50,"y":0.0396},{"s":"o","x":55,"y":0.0405},{"s":"o","x":60,"y":0.0413},{"s":"o","x":65,"y":0.0421},{"s":"o","x":70,"y":0.0428},
{"s":"f","x":0,"y":0},{"s":"f","x":2,"y":0.0041},{"s":"f","x":4,"y":0.0076},{"s":"f","x":6,"y":0.0104},{"s":"f","x":8,"y":0.0127},{"s":"f","x":10,"y":0.0146},{"s":"f","x":13,"y":0.0171},{"s":"f","x":16,"y":0.0192},{"s":"f","x":20,"y":0.0215},{"s":"f","x":25,"y":0.0237},{"s":"f","x":30,"y":0.0255},{"s":"f","x":35,"y":0.0269},{"s":"f","x":40,"y":0.0281},{"s":"f","x":45,"y":0.0291},{"s":"f","x":50,"y":0.03},{"s":"f","x":55,"y":0.0307},{"s":"f","x":60,"y":0.0314},{"s":"f","x":65,"y":0.0319},{"s":"f","x":70,"y":0.0324}
]
},
"spacing":27,
"vconcat":[
{"hconcat":[
{"width":299,"height":298,"layer":[
{"data":{"name":"A"},"mark":{"type":"line"},
"encoding":{
"x":{"field":"x","type":"quantitative","scale":{"domain":[300,700],"nice":false,"zero":false},"axis":{"title":"Wavelength (nm)","tickCount":100,"labelOverlap":false,"values":[300,350,400,450,500,550,600,650,700],"format":"d","labelExpr":"indexof([300,400,500,600,700], datum.value) >= 0 ? datum.label : ''"}},
"y":{"field":"y","type":"quantitative","scale":{"domain":[-0.02,0.65],"nice":false,"zero":false},"axis":{"title":"Absorbance","tickCount":100,"labelOverlap":false,"values":[0,0.05,0.1,0.15,0.2,0.25,0.3,0.35,0.4,0.45,0.5,0.55,0.6,0.65],"format":".1~f","labelExpr":"indexof([0,0.1,0.2,0.3,0.4,0.5,0.6], datum.value) >= 0 ? datum.label : (datum.value == 0.65 ? ' ' : '')"}},
"detail":{"field":"c"},
"strokeDash":{"field":"c","type":"nominal","scale":{"domain":["1","2","3"],"range":[[1,0],[4,2],[6,2,1,2]]},"legend":null},
"color":{"field":"c","type":"nominal","scale":{"domain":["1","2","3"],"range":["#000000","#111111","#555555"]},"legend":null}
}},
{"data":{"values":[{"x":372,"y":0.29,"t":"3"},{"x":373,"y":0.232,"t":"1"},{"x":372,"y":0.175,"t":"2"}]},"mark":{"type":"text","fontSize":13,"align":"center","baseline":"middle","color":"black"},
"encoding":{"x":{"field":"x","type":"quantitative"},"y":{"field":"y","type":"quantitative"},"text":{"field":"t"}}},
{"data":{"values":[{"x":315,"y":0.584,"t":"A"}]},"mark":{"type":"text","fontSize":31,"align":"left","baseline":"alphabetic","color":"black"},
"encoding":{"x":{"field":"x","type":"quantitative"},"y":{"field":"y","type":"quantitative"},"text":{"field":"t"}}}
]},
{"width":298,"height":298,"layer":[
{"data":{"name":"B"},"mark":{"type":"line"},
"encoding":{
"x":{"field":"x","type":"quantitative","scale":{"domain":[400,500],"nice":false,"zero":false},"axis":{"title":"Wavelength (nm)","tickCount":100,"labelOverlap":false,"values":[400,412.5,425,437.5,450,462.5,475,487.5,500],"format":"d","labelExpr":"indexof([400,425,450,475,500], datum.value) >= 0 ? datum.label : ''"}},
"y":{"field":"y","type":"quantitative","scale":{"domain":[-0.4,0.5],"nice":false,"zero":false},"axis":{"title":"Absorbance","tickCount":100,"labelOverlap":false,"values":[-0.4,-0.35,-0.3,-0.25,-0.2,-0.15,-0.1,-0.05,0,0.05,0.1,0.15,0.2,0.25,0.3,0.35,0.4,0.45,0.5],"format":".1~f","labelExpr":"indexof([-0.3,-0.2,-0.1,0,0.1,0.2,0.3,0.4,0.5], datum.value) >= 0 ? datum.label : ''"}},
"detail":{"field":"c"},
"strokeDash":{"field":"c","type":"nominal","scale":{"domain":["1","2","3"],"range":[[1,0],[4,2],[6,2,1,2]]},"legend":null},
"color":{"field":"c","type":"nominal","scale":{"domain":["1","2","3"],"range":["#000000","#111111","#555555"]},"legend":null}
}},
{"data":{"values":[{"x":415,"y":-0.1,"t":"3"},{"x":415,"y":-0.272,"t":"1"},{"x":416.5,"y":-0.338,"t":"2"}]},"mark":{"type":"text","fontSize":13,"align":"center","baseline":"middle","color":"black"},
"encoding":{"x":{"field":"x","type":"quantitative"},"y":{"field":"y","type":"quantitative"},"text":{"field":"t"}}},
{"data":{"values":[{"x":403.4,"y":0.412,"t":"B"}]},"mark":{"type":"text","fontSize":31,"align":"left","baseline":"alphabetic","color":"black"},
"encoding":{"x":{"field":"x","type":"quantitative"},"y":{"field":"y","type":"quantitative"},"text":{"field":"t"}}}
]}
],"spacing":27},
{"hconcat":[
{"vconcat":[
{"width":300,"height":150,"layer":[
{"data":{"name":"Ca"},"mark":{"type":"line","strokeWidth":0.9},
"encoding":{
"x":{"field":"x","type":"quantitative","scale":{"domain":[350,500],"nice":false,"zero":false},"axis":{"title":null,"labels":false,"tickCount":100,"values":[350,375,400,425,450,475,500]}},
"y":{"field":"y","type":"quantitative","scale":{"domain":[-0.022,0.017],"nice":false,"zero":false},"axis":{"title":null,"tickCount":100,"labelOverlap":false,"values":[-0.02,-0.015,-0.01,-0.005,0,0.005,0.01,0.015,0.017],"format":".2~f","labelExpr":"indexof([-0.02,-0.01,0,0.01], datum.value) >= 0 ? datum.label : (datum.value == 0.017 ? ' ' : '')"}},
"detail":{"field":"c"}}},
{"data":{"values":[{"x":354.7,"y":0.0092,"t":"C"}]},"mark":{"type":"text","fontSize":31,"align":"left","baseline":"alphabetic","color":"black"},
"encoding":{"x":{"field":"x","type":"quantitative"},"y":{"field":"y","type":"quantitative"},"text":{"field":"t"}}},
{"data":{"values":[{"x":495.8,"y":0.011,"t":"Ca"}]},"mark":{"type":"text","fontSize":20,"align":"right","baseline":"alphabetic","color":"black"},
"encoding":{"x":{"field":"x","type":"quantitative"},"y":{"field":"y","type":"quantitative"},"text":{"field":"t"}}}
]},
{"width":300,"height":149,"layer":[
{"data":{"name":"Dh"},"mark":{"type":"line","strokeWidth":0.9},
"encoding":{
"x":{"field":"x","type":"quantitative","scale":{"domain":[350,500],"nice":false,"zero":false},"axis":{"title":null,"labels":false,"tickCount":100,"values":[350,375,400,425,450,475,500]}},
"y":{"field":"y","type":"quantitative","scale":{"domain":[-0.032,0.0165],"nice":false,"zero":false},"axis":{"title":"Absorbance","tickCount":100,"labelOverlap":false,"values":[-0.03,-0.025,-0.02,-0.015,-0.01,-0.005,0,0.005,0.01,0.015],"format":".2~f","labelExpr":"indexof([-0.03,-0.02,-0.01,0,0.01], datum.value) >= 0 ? datum.label : ''"}},
"detail":{"field":"c"}}},
{"data":{"values":[{"x":495.8,"y":0.0101,"t":"Δ60Hs"}]},"mark":{"type":"text","fontSize":20,"align":"right","baseline":"alphabetic","color":"black"},
"encoding":{"x":{"field":"x","type":"quantitative"},"y":{"field":"y","type":"quantitative"},"text":{"field":"t"}}}
]},
{"width":300,"height":150,"layer":[
{"data":{"name":"Hs"},"mark":{"type":"line","strokeWidth":0.9},
"encoding":{
"x":{"field":"x","type":"quantitative","scale":{"domain":[350,500],"nice":false,"zero":false},"axis":{"title":"Wavelength (nm)","tickCount":100,"labelOverlap":false,"values":[350,375,400,425,450,475,500],"format":"d","labelExpr":"indexof([350,400,450,500], datum.value) >= 0 ? datum.label : ''"}},
"y":{"field":"y","type":"quantitative","scale":{"domain":[-0.029,0.0255],"nice":false,"zero":false},"axis":{"title":null,"tickCount":100,"labelOverlap":false,"values":[-0.02,-0.01,0,0.01,0.02],"format":".2~f","labelExpr":"indexof([-0.02,0,0.02], datum.value) >= 0 ? datum.label : ''"}},
"detail":{"field":"c"}}},
{"data":{"values":[{"x":495.8,"y":0.0175,"t":"Hs"}]},"mark":{"type":"text","fontSize":20,"align":"right","baseline":"alphabetic","color":"black"},
"encoding":{"x":{"field":"x","type":"quantitative"},"y":{"field":"y","type":"quantitative"},"text":{"field":"t"}}}
]}
],"spacing":0,"bounds":"flush"},
{"width":298,"height":449,"layer":[
{"data":{"name":"Df"},"mark":{"type":"line","interpolate":"monotone"},
"encoding":{
"x":{"field":"x","type":"quantitative","scale":{"domain":[0,70],"nice":false,"zero":false},"axis":{"title":"[Lanosterol] (μM)","tickCount":100,"labelOverlap":false,"values":[0,5,10,15,20,25,30,35,40,45,50,55,60,65,70],"format":"d","labelExpr":"indexof([0,10,20,30,40,50,60,70], datum.value) >= 0 ? datum.label : ''"}},
"y":{"field":"y","type":"quantitative","scale":{"domain":[0,0.05],"nice":false,"zero":false},"axis":{"title":"ΔA","tickCount":100,"labelOverlap":false,"values":[0,0.005,0.01,0.015,0.02,0.025,0.03,0.035,0.04,0.045,0.05],"format":".2~f","labelExpr":"indexof([0,0.01,0.02,0.03,0.04,0.05], datum.value) >= 0 ? datum.label : ''"}},
"detail":{"field":"s"}}},
{"data":{"name":"Dp"},"transform":[{"filter":"datum.s == 'o'"}],"mark":{"type":"point","shape":"circle","filled":false,"stroke":"black","strokeWidth":1,"size":95,"opacity":1},
"encoding":{"x":{"field":"x","type":"quantitative"},"y":{"field":"y","type":"quantitative"}}},
{"data":{"name":"Dp"},"transform":[{"filter":"datum.s == 'f'"}],"mark":{"type":"point","shape":"circle","filled":true,"color":"black","size":95,"opacity":1},
"encoding":{"x":{"field":"x","type":"quantitative"},"y":{"field":"y","type":"quantitative"}}},
{"data":{"name":"Dp"},"transform":[{"filter":"datum.s == 'x'"}],"mark":{"type":"point","shape":"M-1,-1L1,1M-1,1L1,-1","filled":false,"stroke":"black","strokeWidth":1.1,"size":60,"opacity":1},
"encoding":{"x":{"field":"x","type":"quantitative"},"y":{"field":"y","type":"quantitative"}}},
{"data":{"values":[{"x":2.35,"y":0.0465,"t":"D"}]},"mark":{"type":"text","fontSize":31,"align":"left","baseline":"alphabetic","color":"black"},
"encoding":{"x":{"field":"x","type":"quantitative"},"y":{"field":"y","type":"quantitative"},"text":{"field":"t"}}}
]}
],"spacing":25}
]
}
